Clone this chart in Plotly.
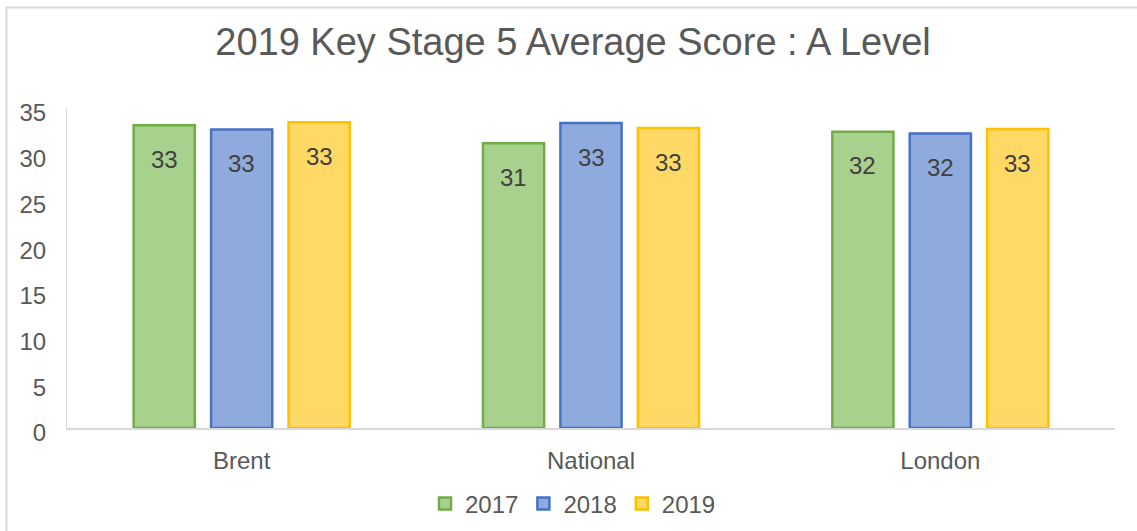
import plotly.graph_objects as go

categories = ["Brent", "National", "London"]
years = ["2017", "2018", "2019"]
values_2017 = [33.1, 31.15, 32.4]
values_2018 = [32.65, 33.35, 32.2]
values_2019 = [33.45, 32.8, 32.7]
fill_colors = ["#A9D18E", "#8FAADC", "#FFD966"]
line_colors = ["#70AD47", "#4472C4", "#FFC000"]

series = [values_2017, values_2018, values_2019]

FONT = "Liberation Sans, Arial, sans-serif"
W, H = 1137, 531
ml, mr, mt, mb = 67, 22, 108, 103
pw, ph = W - ml - mr, H - mt - mb

def px_to_paper_x(px):
    return (px - ml) / pw

def px_to_paper_y(py):
    return (H - mb - py) / ph

fig = go.Figure()
annotations = []
slot_px = 77.4
for i, (name, vals, fc, lc) in enumerate(zip(years, series, fill_colors, line_colors)):
    fig.add_trace(go.Bar(
        x=categories, y=vals, name=name,
        marker=dict(color=fc, line=dict(color=lc, width=2.5)),
        hoverinfo="x+y+name",
    ))
    for cat, v in zip(categories, vals):
        annotations.append(dict(
            x=cat, y=v, xref="x", yref="y", text=f"{v:.0f}", showarrow=False,
            xshift=(i - 1) * slot_px, yshift=-34, yanchor="middle", xanchor="center",
            font=dict(family=FONT, size=24, color="#404040"),
        ))

fig.update_layout(
    width=W, height=H,
    margin=dict(l=ml, r=mr, t=mt, b=mb, autoexpand=False),
    paper_bgcolor="white", plot_bgcolor="white",
    font=dict(family=FONT, size=24, color="#595959"),
    title=dict(text="2019 Key Stage 5 Average Score : A Level",
               x=px_to_paper_x(573), xanchor="center", y=1 - 42 / H, yanchor="middle",
               xref="paper", yref="container",
               font=dict(size=38, color="#595959")),
    barmode="group", bargap=0.335, bargroupgap=0.21,
    showlegend=True,
    legend=dict(orientation="h", x=px_to_paper_x(573), xanchor="center",
                y=px_to_paper_y(504), yanchor="middle",
                font=dict(size=24, color="#595959"), itemwidth=30,
                traceorder="normal"),
    xaxis=dict(showgrid=False, showline=True, linecolor="#D9D9D9", linewidth=2,
               ticks="", ticklabelstandoff=10, automargin=False,
               tickfont=dict(size=24, color="#595959")),
    yaxis=dict(range=[0, 35], dtick=5, showgrid=False, zeroline=False,
               showline=True, linecolor="#D9D9D9", linewidth=1,
               ticks="", ticklabelstandoff=15, ticklabelshift=5, automargin=False,
               tickfont=dict(size=24, color="#595959")),
    annotations=annotations,
    shapes=[dict(type="rect", xref="paper", yref="paper",
                 x0=px_to_paper_x(6.5), x1=px_to_paper_x(1145),
                 y0=px_to_paper_y(540), y1=px_to_paper_y(7.5),
                 line=dict(color="#D9D9D9", width=2), fillcolor="rgba(0,0,0,0)",
                 layer="below")],
)

fig.write_html("out.html", config={"displayModeBar": False},
               post_script="document.body.style.margin='0';document.body.style.overflow='hidden';")
